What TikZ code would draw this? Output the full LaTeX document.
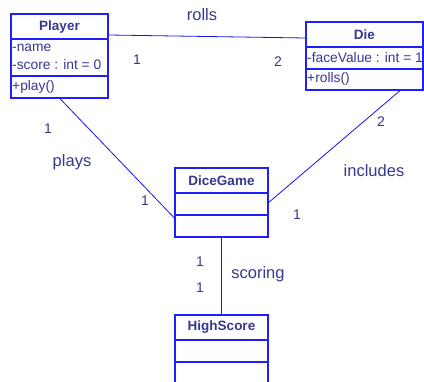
\documentclass[tikz,border=0pt]{standalone}
\usepackage{fontspec}
\setmainfont{Liberation Sans}
\usetikzlibrary{calc}
\definecolor{txt}{RGB}{55,55,145}
\definecolor{edge}{RGB}{30,30,255}
\definecolor{conn}{RGB}{20,20,240}
\tikzset{
  classbox/.style={draw=edge, line width=1.3pt, fill=white, inner sep=0pt},
  divider/.style={draw=edge, line width=1.3pt},
  assoc/.style={draw=conn, line width=0.8pt},
  cname/.style={text=txt, font=\fontsize{13.5}{15}\selectfont\bfseries, inner sep=0pt},
  attr/.style={text=txt, font=\fontsize{13.8}{15}\selectfont, anchor=west, inner sep=0pt},
  lbl/.style={text=txt, font=\fontsize{16.5}{18}\selectfont, inner sep=0pt},
  mult/.style={text=txt, font=\fontsize{14}{16}\selectfont, inner sep=0pt}
}
\begin{document}
\begin{tikzpicture}[x=1pt,y=-1pt]
\clip (0,0) rectangle (424,382);
\fill[white] (0,0) rectangle (424,382);
% Player
\node[classbox, minimum width=97pt, minimum height=84pt] (player) at (59.5,56) {};
\draw[divider] (11,39) -- (108,39);
\draw[divider] (11,76) -- (108,76);
\node[cname] (playername) at (59.5,27) {Player};
\node[attr] (pa1) at (12,48) {-name};
\node[attr] (pa2) at (12,65) {-score : int = 0};
\node[attr] (pm1) at (12,87) {+play()};
% Die
\node[classbox, minimum width=117pt, minimum height=68pt] (die) at (364.5,56) {};
\draw[divider] (306,47) -- (423,47);
\draw[divider] (306,69) -- (423,69);
\node[cname] (diename) at (364.5,34.5) {Die};
\node[attr] (da1) at (307,57.5) {-faceValue : int = 1};
\node[attr] (dm1) at (307,79) {+rolls()};
% DiceGame
\node[classbox, minimum width=93pt, minimum height=69pt] (dicegame) at (221.5,202.5) {};
\draw[divider] (175,193) -- (268,193);
\draw[divider] (175,215) -- (268,215);
\node[cname] (dgname) at (221.5,181) {DiceGame};
% HighScore
\node[classbox, minimum width=93pt, minimum height=72pt] (highscore) at (221.5,351) {};
\draw[divider] (175,340) -- (268,340);
\draw[divider] (175,362) -- (268,362);
\node[cname] (hsname) at (221.5,327.5) {HighScore};
% connectors
\draw[assoc] ($(player.east)+(0,-21)$) -- ($(die.west)+(0,-18)$);
\draw[assoc] ($(player.south)+(0.5,0)$) -- ($(dicegame.west)+(0,15.5)$);
\draw[assoc] ($(die.south)+(35.5,0)$) -- (dicegame.east);
\draw[assoc] (dicegame.south) -- (highscore.north);
% labels
\node[lbl] (rolls) at (202,14.5) {rolls};
\node[mult] (m1) at (137,60) {1};
\node[mult] (m2) at (278,62) {2};
\node[mult] (m3) at (48,128.5) {1};
\node[lbl] (plays) at (72,162) {plays};
\node[mult] (m4) at (145,200.5) {1};
\node[mult] (m5) at (381,122) {2};
\node[lbl] (includes) at (374,171) {includes};
\node[mult] (m6) at (297,215) {1};
\node[mult] (m7) at (200,262) {1};
\node[lbl] (scoring) at (258,274) {scoring};
\node[mult] (m8) at (200,288) {1};
\end{tikzpicture}
\end{document}
